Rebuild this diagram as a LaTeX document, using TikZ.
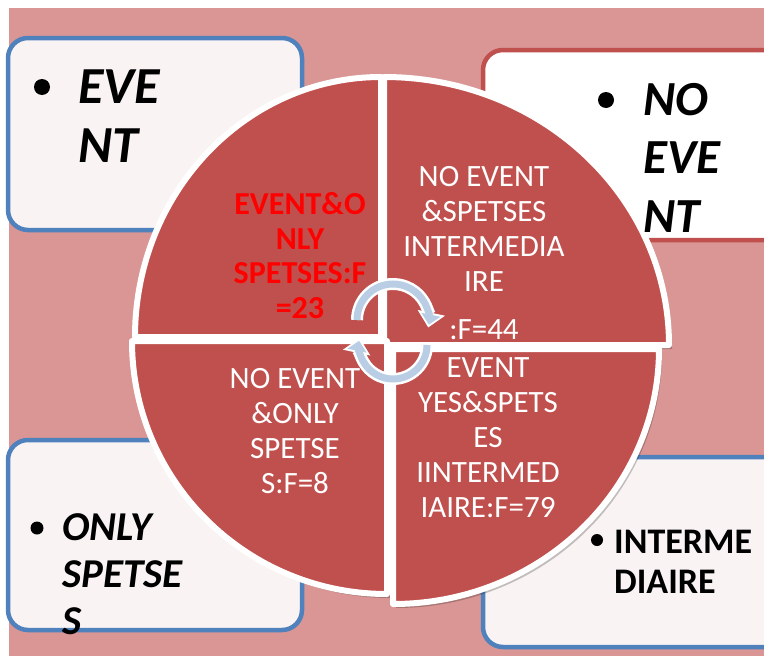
\documentclass[tikz,border=0pt]{standalone}
\usepackage{fontspec}
\setmainfont{Carlito}
\usetikzlibrary{arrows.meta}
\definecolor{bgpink}{RGB}{217,150,148}
\definecolor{piered}{RGB}{192,80,77}
\definecolor{boxblue}{RGB}{79,129,189}
\definecolor{boxfill}{RGB}{249,243,243}
\definecolor{arrowblue}{RGB}{185,205,229}

\begin{document}
\begin{tikzpicture}[x=1pt, y=-1pt,
	box/.style={rounded corners=20, line width=4.5, draw=boxblue, fill=boxfill},
	quarter/.style={fill=piered, draw=white, line width=6, line join=round},
	shadow/.style={fill=black, opacity=0.22},
	dot/.style={circle, fill=black, inner sep=0},
	boxtext/.style={anchor=base west, align=left, inner sep=0},
	pietext/.style={anchor=base, align=center, inner sep=0, text=white, font=\fontsize{31}{35}\selectfont},
	redtext/.style={anchor=base, align=center, inner sep=0, text=red, font=\bfseries\fontsize{32}{34.5}\selectfont}]
	\useasboundingbox (0,0) rectangle (764,656);
	\clip (0,0) rectangle (764,656);
	\fill [white] (0,0) rectangle (764,656);
	\fill [bgpink] (9,8) rectangle (764,656);
	
	\draw [box] (8,38) rectangle (302,230);
	\draw [box, draw=piered, fill=white] (483,50) rectangle (800,240);
	\draw [box] (8,440) rectangle (302,630);
	\draw [box] (483,457) rectangle (800,647);
	
	\begin{scope}[shift={(3,4)}]
		\fill [shadow] (381,337) -- ++(-246,0) arc [start angle=180, end angle=270, x radius=246, y radius=260] -- cycle;
		\fill [shadow] (384,345) -- ++(0,-268) arc [start angle=270, end angle=360, x radius=285, y radius=268] -- cycle;
		\fill [shadow] (387,341) -- ++(0,253) arc [start angle=90, end angle=180, x radius=255, y radius=253] -- cycle;
		\fill [shadow] (393,349) -- ++(266,0) arc [start angle=0, end angle=90, x radius=266, y radius=255] -- cycle;
	\end{scope}
	
	\draw [quarter] (381,337) -- ++(-246,0) arc [start angle=180, end angle=270, x radius=246, y radius=260] -- cycle;
	\draw [quarter] (384,345) -- ++(0,-268) arc [start angle=270, end angle=360, x radius=285, y radius=268] -- cycle;
	\draw [quarter] (387,341) -- ++(0,253) arc [start angle=90, end angle=180, x radius=255, y radius=253] -- cycle;
	\draw [quarter] (393,349) -- ++(266,0) arc [start angle=0, end angle=90, x radius=266, y radius=255] -- cycle;
	
	\draw [white, line width=12, -{Triangle[width=27pt, length=15pt]}] (357,320) arc [start angle=180, end angle=372, radius=36];
	\draw [arrowblue, line width=7, shorten >=3pt, -{Triangle[width=19pt, length=10pt]}] (357,320) arc [start angle=180, end angle=372, radius=36];
	\draw [white, line width=12, -{Triangle[width=27pt, length=15pt]}] (427,345) arc [start angle=0, end angle=192, radius=34];
	\draw [arrowblue, line width=7, shorten >=3pt, -{Triangle[width=19pt, length=10pt]}] (427,345) arc [start angle=0, end angle=192, radius=34];
	
	\node [redtext] (evonly) at (300,318) {EVENT\&O\\NLY\\SPETSES:F\\=23};
	\node [pietext] (noevspet) at (484,291) {NO EVENT\\\&SPETSES\\INTERMEDIA\\IRE};
	\node [pietext] (noevf) at (484,339) {:F=44};
	\node [pietext] (noevonly) at (295,493) {NO EVENT\\\&ONLY\\SPETSE\\S:F=8};
	\node [pietext] (evyes) at (488,517) {EVENT\\YES\&SPETS\\ES\\IINTERMED\\IAIRE:F=79};
	
	\node [dot, minimum size=16] (evdot) at (42,87) {};
	\node [boxtext, font=\bfseries\itshape\fontsize{52}{59}\selectfont] (ev) at (78,162) {EVE\\NT};
	\node [dot, minimum size=16] (noevdot) at (606,100) {};
	\node [boxtext, font=\bfseries\itshape\fontsize{49}{58.5}\selectfont] (noev) at (643,232) {NO\\EVE\\NT};
	\node [dot, minimum size=13] (onlydot) at (37,528) {};
	\node [boxtext, font=\bfseries\itshape\fontsize{41}{47}\selectfont] (only) at (62,634) {ONLY\\SPETSE\\S};
	\node [dot, minimum size=12] (interdot) at (597,540) {};
	\node [boxtext, font=\bfseries\fontsize{36}{40}\selectfont] (inter) at (614,593) {INTERME\\DIAIRE};
\end{tikzpicture}
\end{document}
